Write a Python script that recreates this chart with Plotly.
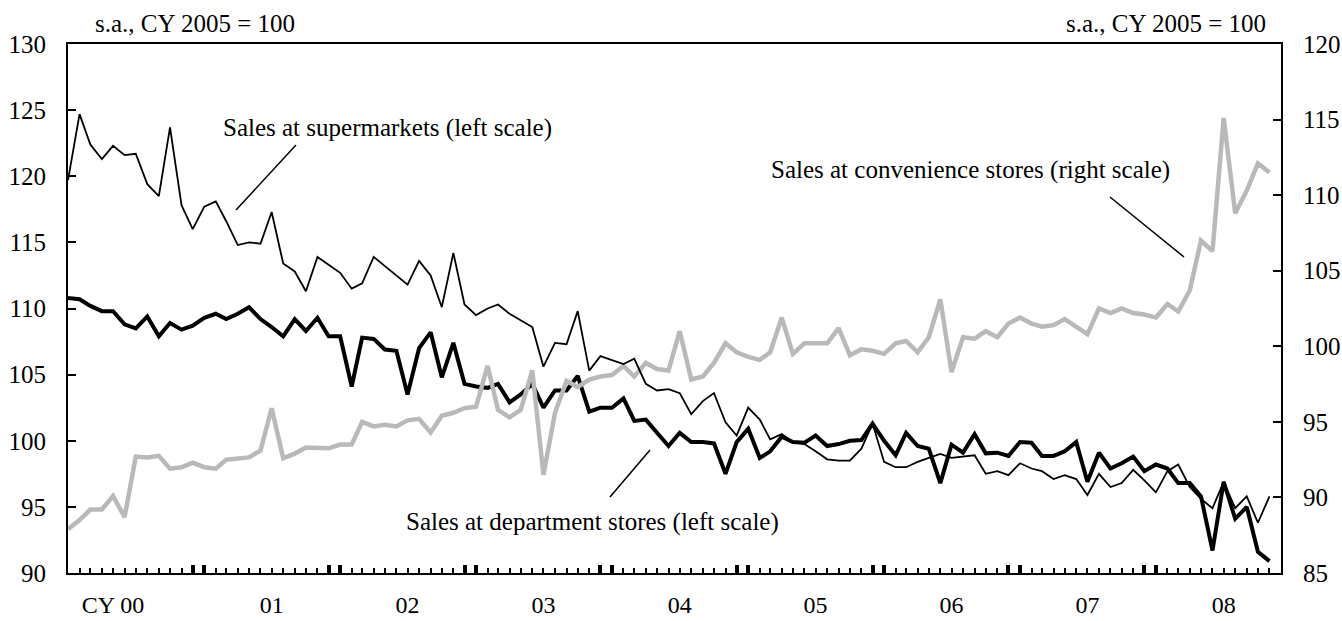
import pandas as pd
import plotly.graph_objects as go

# monthly, Jan 2000 - Nov 2008, s.a., CY 2005 = 100
months = pd.date_range('2000-01-01', periods=107, freq='MS')

supermarkets = [
    119.7, 124.7, 122.4, 121.3, 122.3, 121.6, 121.7, 119.4, 118.5, 123.7, 117.8, 116.0,
    117.7, 118.1, 116.6, 114.8, 115.0, 114.9, 117.3, 113.4, 112.8, 111.3, 113.9, 113.3,
    112.7, 111.5, 111.9, 113.9, 113.2, 112.5, 111.8, 113.6, 112.5, 110.1, 114.2, 110.3,
    109.5, 110.0, 110.3, 109.6, 109.1, 108.6, 105.6, 107.4, 107.3, 109.8, 105.3, 106.4,
    106.1, 105.8, 106.2, 104.3, 103.8, 103.9, 103.6, 102.0, 103.0, 103.6, 101.4, 100.4,
    102.5, 101.6, 100.1, 100.5, 99.9, 99.75, 99.2, 98.6, 98.5, 98.5, 99.4, 101.3,
    98.4, 98.0, 98.0, 98.4, 98.7, 99.0, 98.7, 98.8, 98.9, 97.5, 97.7, 97.4,
    98.3, 97.9, 97.7, 97.1, 97.4, 97.1, 95.9, 97.5, 96.5, 96.8, 97.8, 97.0,
    96.1, 97.7, 98.2, 96.5, 95.6, 94.9, 96.9, 94.9, 95.8, 93.8, 95.8,
]

department = [
    110.8, 110.7, 110.2, 109.8, 109.8, 108.8, 108.5, 109.4, 107.9, 108.9, 108.4, 108.7,
    109.3, 109.6, 109.2, 109.6, 110.1, 109.2, 108.6, 107.9, 109.2, 108.3, 109.3, 107.9,
    107.9, 104.1, 107.8, 107.7, 106.9, 106.8, 103.5, 107.0, 108.2, 104.8, 107.4, 104.3,
    104.1, 104.0, 104.3, 102.9, 103.5, 104.3, 102.5, 103.8, 103.8, 104.9, 102.2, 102.5,
    102.5, 103.2, 101.5, 101.6, 100.6, 99.6, 100.6, 99.9, 99.9, 99.8, 97.5, 99.9,
    100.9, 98.7, 99.2, 100.3, 99.9, 99.85, 100.4, 99.6, 99.75, 100.0, 100.05, 101.3,
    100.0, 98.9, 100.6, 99.6, 99.4, 96.8, 99.7, 99.1, 100.5, 99.05, 99.1, 98.85,
    99.9, 99.85, 98.85, 98.85, 99.2, 99.9, 96.9, 99.1, 97.9, 98.3, 98.8, 97.7,
    98.2, 97.9, 96.8, 96.8, 95.8, 91.7, 96.9, 94.1, 95.0, 91.6, 90.9,
]

convenience = [
    87.9, 88.5, 89.2, 89.2, 90.1, 88.7, 92.7, 92.65, 92.75, 91.9, 92.0, 92.3,
    92.0, 91.9, 92.5, 92.6, 92.65, 93.1, 95.9, 92.6, 92.9, 93.3, 93.25, 93.25,
    93.5, 93.5, 95.0, 94.7, 94.8, 94.7, 95.1, 95.2, 94.3, 95.4, 95.6, 95.9,
    96.0, 98.7, 95.8, 95.3, 95.8, 98.4, 91.5, 95.6, 97.7, 97.3, 97.8, 98.0,
    98.1, 98.7, 98.0, 98.9, 98.5, 98.4, 101.0, 97.8, 98.0, 98.9, 100.2, 99.6,
    99.3, 99.1, 99.6, 101.9, 99.5, 100.2, 100.2, 100.2, 101.2, 99.4, 99.8, 99.7,
    99.5, 100.2, 100.35, 99.6, 100.6, 103.1, 98.3, 100.6, 100.5, 101.0, 100.6, 101.5,
    101.9, 101.5, 101.3, 101.4, 101.8, 101.3, 100.8, 102.5, 102.2, 102.5, 102.2, 102.1,
    101.9, 102.8, 102.3, 103.7, 107.0, 106.3, 115.1, 108.8, 110.3, 112.1, 111.5,
]

year_labels = ['CY 00', '01', '02', '03', '04', '05', '06', '07', '08']
label_pos = ['2000-05-01'] + [f'{y}-07-01' for y in range(2001, 2009)]
# heavy ticks mark the Dec / Jan boundary of each year
year_ticks = [d for y in range(2001, 2009) for d in (f'{y - 1}-12-01', f'{y}-01-01')]

FONT = 'Liberation Serif'
W, H = 1342, 621
L, R, T, B = 68, 1281, 44, 573


def px(x, y):
    # pixel position -> paper coords
    return (x - L) / (R - L), (B - y) / (B - T)


fig = go.Figure()
fig.add_trace(go.Scatter(x=months, y=convenience, yaxis='y2', mode='lines',
                         line=dict(color='#b9b9b9', width=4.5), name='Convenience stores'))
fig.add_trace(go.Scatter(x=months, y=department, mode='lines',
                         line=dict(color='black', width=4), name='Department stores'))
fig.add_trace(go.Scatter(x=months, y=supermarkets, xaxis='x2', mode='lines',
                         line=dict(color='black', width=1.8), name='Supermarkets'))

xrange = ['2000-01-01', '2008-12-02']
yaxis_common = dict(dtick=5, ticks='inside', ticklen=8, tickwidth=2, tickcolor='black',
                    showline=True, linewidth=2, linecolor='black', showgrid=False,
                    zeroline=False, tickfont=dict(family=FONT, size=25, color='black'),
                    ticklabelstandoff=15, automargin=False)

fig.update_layout(
    width=W, height=H,
    margin=dict(l=L, r=W - R, t=T, b=H - B),
    plot_bgcolor='white', paper_bgcolor='white',
    showlegend=False,
    font=dict(family=FONT, size=25, color='black'),
    xaxis=dict(type='date', range=xrange, showline=True, mirror=True, linewidth=2,
               linecolor='black', showgrid=False, zeroline=False, automargin=False,
               tickmode='array', tickvals=year_ticks, ticks='inside', ticklen=8,
               tickwidth=3.5, tickcolor='black', showticklabels=False,
               minor=dict(dtick='M1', tick0='2000-01-01', ticks='inside', ticklen=5,
                          tickwidth=1.5, tickcolor='black')),
    xaxis2=dict(type='date', range=xrange, overlaying='x', side='bottom', anchor='y',
                showline=False, showgrid=False, zeroline=False, ticks='', automargin=False,
                tickmode='array', tickvals=label_pos, ticktext=year_labels,
                tickfont=dict(family=FONT, size=24, color='black'), ticklabelstandoff=15),
    yaxis=dict(range=[90, 130], tick0=90, **yaxis_common),
    yaxis2=dict(range=[85, 120], tick0=85, overlaying='y', side='right', **yaxis_common),
)

texts = [
    ('s.a., CY 2005 = 100', 195, 23),
    ('s.a., CY 2005 = 100', 1166, 23),
    ('Sales at supermarkets (left scale)', 387, 128),
    ('Sales at convenience stores (right scale)', 970, 170),
    ('Sales at department stores (left scale)', 592, 522),
]
for t, x, y in texts:
    xp, yp = px(x, y)
    fig.add_annotation(text=t, x=xp, y=yp, xref='paper', yref='paper', showarrow=False,
                       xanchor='center', yanchor='middle',
                       font=dict(family=FONT, size=25, color='black'))

leaders = [((296, 145), (236, 210)), ((1110, 197), (1184, 257)), ((650, 450), (610, 497))]
for (x0, y0), (x1, y1) in leaders:
    a, b = px(x0, y0)
    c, d = px(x1, y1)
    fig.add_shape(type='line', x0=a, y0=b, x1=c, y1=d, xref='paper', yref='paper',
                  line=dict(color='black', width=1.5))

# page body has a default 8px margin; drop it so the figure fills the window
fig.write_html('out.html', config={'displayModeBar': False},
               post_script="document.body.style.margin='0';")
